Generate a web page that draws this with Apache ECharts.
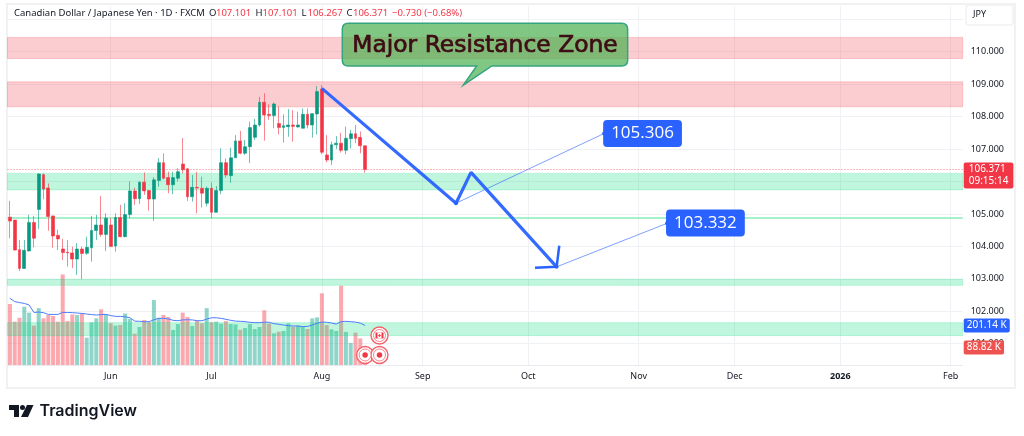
<!DOCTYPE html>
<html>
<head>
<meta charset="utf-8">
<style>html,body{margin:0;padding:0;background:#fff}#chart{width:1024px;height:436px}</style>
<script src="https://cdn.jsdelivr.net/npm/echarts@6/dist/echarts.min.js"></script>
</head>
<body>
<div id="chart"></div>
<script>
// open, close, low, high
var candles = [
[104.90,104.78,104.25,105.40],[104.81,103.89,103.87,104.81],[103.90,103.32,103.24,104.20],[103.32,103.88,103.32,104.20],
[103.86,104.74,103.84,104.97],[104.74,104.25,103.97,104.94],[105.14,106.23,104.54,106.25],[106.21,105.77,105.45,106.25],
[105.80,104.92,104.48,105.94],[104.94,104.32,103.96,104.94],[104.34,104.23,103.89,104.51],[103.92,103.81,103.58,104.23],
[103.82,103.80,103.38,104.20],[103.80,103.61,103.33,103.99],[103.61,103.92,103.12,104.10],[103.92,103.78,102.99,103.99],
[103.79,103.97,103.74,104.30],[103.96,104.49,103.53,104.94],[104.49,104.66,104.20,104.97],[104.66,104.37,104.30,105.55],
[104.37,104.87,103.86,105.02],[104.66,104.00,104.00,104.87],[104.01,104.89,103.84,105.02],[104.89,104.30,104.28,105.28],
[104.30,104.98,104.28,105.33],[104.98,105.71,104.87,106.00],[105.71,105.47,105.28,105.81],[105.47,105.98,105.31,106.00],
[105.98,105.71,105.59,106.28],[105.72,105.46,105.10,105.74],[105.46,106.05,104.79,106.13],[106.03,106.58,105.84,106.72],
[106.58,106.10,106.07,106.87],[106.12,105.90,105.64,106.30],[105.90,106.12,105.61,106.30],[106.10,106.30,106.00,106.41],
[106.54,106.36,106.25,107.34],[106.39,105.53,105.40,106.41],[105.53,105.82,105.38,106.20],[105.82,105.80,105.02,106.30],
[105.79,105.64,105.20,106.15],[105.33,105.79,105.23,105.84],[105.79,105.05,104.87,105.97],[105.05,105.72,105.05,105.86],
[105.72,106.58,105.61,107.02],[106.58,106.20,106.12,106.71],[106.18,106.73,105.96,107.04],[106.73,107.25,106.73,107.43],
[107.25,106.87,106.84,107.56],[106.87,107.07,106.82,107.28],[107.07,107.66,106.57,107.84],[107.36,107.74,107.28,107.93],
[107.74,108.44,107.69,108.61],[108.44,108.05,107.26,108.72],[108.07,108.03,107.90,108.38],[108.03,108.39,107.64,108.43],
[107.79,107.66,107.45,108.31],[107.66,107.72,107.20,108.07],[107.69,107.74,107.38,108.23],[107.74,107.70,107.23,108.20],
[107.68,107.74,107.66,108.15],[107.64,108.07,107.64,108.25],[108.07,107.74,107.64,108.25],[107.74,108.09,107.35,108.10],
[108.08,108.77,107.45,108.94],[108.85,106.90,106.84,108.97],[106.82,106.66,106.59,107.43],[106.66,107.13,106.51,107.23],
[107.13,107.18,107.00,107.40],[107.18,106.96,106.89,107.50],[106.96,107.33,106.84,107.69],[107.32,107.47,107.02,107.59],
[107.47,107.33,107.18,107.74],[107.36,107.10,106.87,107.54],[107.101,106.371,106.267,107.101]
];
// volume in thousands
var volumes = [310,220,240,296,266,200,289,237,254,249,220,460,223,257,254,262,139,217,237,283,257,212,200,203,262,234,159,193,229,217,330,240,254,244,178,208,266,244,198,225,212,289,217,220,210,223,208,206,179,188,208,183,193,278,210,161,169,173,212,193,200,195,183,237,242,364,203,181,173,403,168,112,164,135,88.82];
var volumeAvg = [339,322,317,313,305,267,269,266,257,257,257,267,267,266,264,262,259,256,254,256,257,251,247,247,245,240,223,222,220,220,230,237,237,234,227,225,229,230,229,225,225,233,240,240,237,232,227,223,222,220,217,215,215,218,217,210,207,203,200,198,198,195,196,203,212,218,217,213,208,220,222,220,218,213,201.14];

var priceTicks = [101,102,103,104,105,106,107,108,109,110,111];
var priceLabels = [101,102,103,104,105,107,108,109,110];
var tickDates = ['2025-06-02','2025-07-01','2025-08-01','2025-09-01','2025-10-01','2025-11-03','2025-12-01','2025-12-31','2026-02-02'];
var tickNames = ['Jun','Jul','Aug','Sep','Oct','Nov','Dec','2026','Feb'];

// price bands [top, bottom]
var resistanceZones = [[110.44,109.79],[109.07,108.30]];
var supportZones = [[106.25,105.74],[102.99,102.80],[101.65,101.25]];
var supportLine = 104.87;
var lastPrice = 106.371;
var lastVolume = 88.82;
var lastAvg = 201.14;

// drawings as [bar index, price]
var arrowPath = [[65,108.87],[92.94,105.33],[96.06,106.28],[113.9,103.37]];
var arrowHead = [[114.45,104.02],[113.9,103.37],[109.4,103.34]];
var leaders = [[[92.94,105.33],[123.8,107.48]],[[113.9,103.37],[136.9,104.71]]];
var targetLabels = [[131.8,107.48,'105.306'],[144.9,104.72,'103.332']];
var calloutBox = [69.25,110.875,128.7,109.56];
var calloutTail = [[97.25,109.56],[94.46,108.97],[100.4,109.56]];
var calloutText = 'Major Resistance Zone';

// event icons as [bar index, volume]
var eventDots = [[74,51],[77,51]];
var eventFlag = [[77,150]];

var headerItems = [
    ['Canadian Dollar / Japanese Yen · 1D · FXCM',14,'#131722'],
    ['O',209,'#131722'],['107.101',216,'#f23645'],
    ['H',255.5,'#131722'],['107.101',262.5,'#f23645'],
    ['L',301.5,'#131722'],['106.267',307.5,'#f23645'],
    ['C',346.5,'#131722'],['106.371',353,'#f23645'],
    ['−0.730 (−0.68%)',392,'#f23645']
];

var UP = '#089981', DOWN = '#f23645', BLUE = '#2962ff';
var FONT = '"Noto Sans"';

// weekday calendar from the first bar to the end of the axis
var dates = [];
var day = new Date(Date.UTC(2025,4,2));
while (dates.length < 199) {
    if (day.getUTCDay() != 0 && day.getUTCDay() != 6) dates.push(day.toISOString().slice(0,10));
    day = new Date(day.getTime() + 86400000);
}
function isTick(i, name) { return tickDates.indexOf(name) >= 0; }

var volumeBars = volumes.map(function (v, i) {
    var c = candles[i];
    return { value: v, itemStyle: { color: c[1] >= c[0] ? 'rgba(34,171,148,0.5)' : 'rgba(247,82,95,0.5)' } };
});

var myChart = echarts.init(document.getElementById('chart'), null, { renderer: 'canvas' });

var zoneAreas = resistanceZones.map(function (z) {
    return [{ yAxis: z[0], itemStyle: { color: 'rgba(242,54,69,0.25)', borderColor: 'rgba(242,54,69,0.22)', borderWidth: 1 } }, { yAxis: z[1] }];
}).concat(supportZones.map(function (z) {
    return [{ yAxis: z[0], itemStyle: { color: 'rgba(0,220,120,0.25)', borderColor: 'rgba(0,220,120,0.2)', borderWidth: 1 } }, { yAxis: z[1] }];
}));

function tag(text, bg, pad, dy) {
    return { show: true, position: 'end', distance: 1, offset: [0, dy], formatter: text, color: '#fff', fontFamily: FONT, fontSize: 10,
        backgroundColor: bg, padding: pad, borderRadius: 2, lineHeight: 12 };
}

var option = {
    animation: false,
    backgroundColor: '#fff',
    grid: [
        { left: 7.5, width: 955.2, top: 6, height: 359 },
        { left: 7.5, width: 955.2, top: 270, height: 95 }
    ],
    xAxis: [
        {
            type: 'category', gridIndex: 0, data: dates,
            axisLine: { lineStyle: { color: '#e8eaef' } },
            axisTick: { show: false, alignWithLabel: true },
            splitLine: { show: true, alignWithLabel: true, interval: isTick, lineStyle: { color: '#f0f1f4' } },
            axisLabel: {
                interval: isTick, margin: 7, color: '#131722', fontFamily: FONT, fontSize: 9,
                formatter: function (v) {
                    var n = tickNames[tickDates.indexOf(v)];
                    return n == '2026' ? '{b|' + n + '}' : n;
                },
                rich: { b: { fontWeight: 'bold', color: '#131722', fontFamily: FONT, fontSize: 9 } }
            }
        },
        { type: 'category', gridIndex: 1, data: dates, show: false },
        { type: 'value', gridIndex: 0, min: -0.5, max: 198.5, show: false }
    ],
    yAxis: [
        {
            type: 'value', gridIndex: 0, position: 'right', min: 100.345, max: 111.408, scale: true,
            axisLine: { show: false },
            axisTick: { show: false, customValues: priceTicks },
            splitLine: { show: true, lineStyle: { color: '#f0f1f4' } },
            axisLabel: {
                customValues: priceLabels, margin: 8, color: '#131722', fontFamily: FONT, fontSize: 9,
                formatter: function (v) { return v.toFixed(3); }
            }
        },
        { type: 'value', gridIndex: 1, min: 0, max: 482.6, show: false }
    ],
    graphic: [
        { type: 'rect', z: -1, shape: { x: 7, y: 4, width: 1008, height: 384 }, style: { fill: 'none', stroke: '#f0f1f3', lineWidth: 2 } },
        { type: 'rect', z: 50, shape: { x: 966, y: 5, width: 47, height: 20, r: 3 }, style: { fill: '#fff', stroke: '#f0f1f3', lineWidth: 1.5 } },
        { type: 'text', z: 51, x: 973, y: 10, style: { text: 'JPY', fill: '#131722', font: '9px ' + FONT } },
        // logo
        { type: 'polygon', shape: { points: [[9,405],[19,405],[19,417],[14,417],[14,410],[9,410]] }, style: { fill: '#131722' } },
        { type: 'circle', shape: { cx: 22.5, cy: 407.5, r: 2.5 }, style: { fill: '#131722' } },
        { type: 'polygon', shape: { points: [[27,405],[33.5,405],[28,417],[21,417]] }, style: { fill: '#131722' } },
        { type: 'text', x: 39.5, y: 403, style: { text: 'TradingView', fill: '#131722', font: '600 16px Inter' } }
    ].concat(headerItems.map(function (h) {
        return { type: 'text', z: 40, x: h[1], y: 8.5, style: { text: h[0], fill: h[2], font: '9.5px ' + FONT } };
    })),
    series: [
        {
            name: 'Volume', type: 'bar', xAxisIndex: 1, yAxisIndex: 1, z: 1, barWidth: 4, data: volumeBars,
            markLine: {
                silent: true, symbol: 'none', z: 20,
                lineStyle: { color: 'rgba(0,0,0,0)' },
                data: [
                    { yAxis: lastAvg, label: tag('201.14 K', BLUE, [1, 3], 0) },
                    { yAxis: lastVolume, label: tag('88.82 K', '#ef5350', [1, 3], 0) }
                ]
            }
        },
        {
            name: 'Zones', type: 'line', xAxisIndex: 0, yAxisIndex: 0, z: 2, data: [],
            markArea: { silent: true, z: 2, data: zoneAreas },
            markLine: {
                silent: true, symbol: 'none', z: 2,
                lineStyle: { color: '#86edb8', width: 1.6, type: 'solid' },
                label: { show: false },
                data: [{ yAxis: supportLine }]
            }
        },
        {
            name: 'CAD/JPY', type: 'candlestick', xAxisIndex: 0, yAxisIndex: 0, z: 3, barWidth: 3.4, data: candles,
            itemStyle: { color: UP, color0: DOWN, borderColor: 'rgba(8,153,129,0.75)', borderColor0: 'rgba(242,54,69,0.75)', borderWidth: 0.8 },
            markLine: {
                silent: true, symbol: 'none', z: 3,
                lineStyle: { color: 'rgba(242,54,69,0.7)', width: 1, type: [1, 2] },
                data: [{ yAxis: lastPrice, label: tag('106.371\n09:15:14', DOWN, [1, 5], 6) }]
            }
        },
        {
            name: 'Vol MA', type: 'line', xAxisIndex: 1, yAxisIndex: 1, z: 4, data: volumeAvg, symbol: 'none',
            lineStyle: { color: '#4d7dff', width: 1 }
        },
        {
            type: 'line', xAxisIndex: 2, yAxisIndex: 0, z: 6, data: leaders[0], symbol: 'circle', symbolSize: 4,
            itemStyle: { color: BLUE }, lineStyle: { color: 'rgba(41,98,255,0.6)', width: 1 }
        },
        {
            type: 'line', xAxisIndex: 2, yAxisIndex: 0, z: 6, data: leaders[1], symbol: 'circle', symbolSize: 4,
            itemStyle: { color: BLUE }, lineStyle: { color: 'rgba(41,98,255,0.6)', width: 1 }
        },
        {
            type: 'line', xAxisIndex: 2, yAxisIndex: 0, z: 7, data: arrowPath, symbol: 'none',
            lineStyle: { color: BLUE, width: 3.2, opacity: 0.95 }
        },
        {
            type: 'line', xAxisIndex: 2, yAxisIndex: 0, z: 7, data: arrowHead, symbol: 'none',
            lineStyle: { color: BLUE, width: 2.5 }
        },
        {
            type: 'scatter', xAxisIndex: 2, yAxisIndex: 0, z: 8, symbolSize: 1, itemStyle: { color: BLUE, opacity: 1 },
            data: targetLabels,
            label: {
                show: true, position: 'inside', fontFamily: '"Open Sans"', fontWeight: 500, fontSize: 17, color: '#fff',
                backgroundColor: BLUE, borderRadius: 4, padding: [5, 8],
                formatter: function (p) { return p.value[2]; }
            }
        },
        {
            type: 'custom', xAxisIndex: 2, yAxisIndex: 0, z: 9, data: [calloutBox], clip: false,
            renderItem: function (params, api) {
                var a = api.coord([calloutBox[0], calloutBox[1]]);
                var b = api.coord([calloutBox[2], calloutBox[3]]);
                var t0 = api.coord(calloutTail[0]), t1 = api.coord(calloutTail[1]), t2 = api.coord(calloutTail[2]);
                var r = 6;
                var d = 'M' + (a[0] + r) + ' ' + a[1] + 'L' + (b[0] - r) + ' ' + a[1] +
                    'Q' + b[0] + ' ' + a[1] + ' ' + b[0] + ' ' + (a[1] + r) +
                    'L' + b[0] + ' ' + (b[1] - r) + 'Q' + b[0] + ' ' + b[1] + ' ' + (b[0] - r) + ' ' + b[1] +
                    'L' + t2[0] + ' ' + t2[1] + 'L' + t1[0] + ' ' + t1[1] + 'L' + t0[0] + ' ' + t0[1] +
                    'L' + (a[0] + r) + ' ' + b[1] + 'Q' + a[0] + ' ' + b[1] + ' ' + a[0] + ' ' + (b[1] - r) +
                    'L' + a[0] + ' ' + (a[1] + r) + 'Q' + a[0] + ' ' + a[1] + ' ' + (a[0] + r) + ' ' + a[1] + 'Z';
                return {
                    type: 'group',
                    children: [
                        {
                            type: 'path',
                            shape: { pathData: d, x: a[0], y: a[1], width: b[0] - a[0], height: t1[1] - a[1], layout: 'cover' },
                            style: { fill: 'rgba(76,175,80,0.7)', stroke: '#34a57f', lineWidth: 1.5 }
                        },
                        {
                            type: 'text', x: (a[0] + b[0]) / 2, y: (a[1] + b[1]) / 2 + 1.5,
                            style: { text: calloutText, fill: '#3d0c14', stroke: '#3d0c14', lineWidth: 0.7, font: '23.4px "DejaVu Sans"', align: 'center', verticalAlign: 'middle' }
                        }
                    ]
                };
            }
        },
        // event icons
        {
            type: 'scatter', xAxisIndex: 1, yAxisIndex: 1, z: 10, symbolSize: 17, data: eventDots.concat(eventFlag),
            itemStyle: { color: '#fff', borderColor: '#f4616a', borderWidth: 1.4, opacity: 1 }
        },
        {
            type: 'scatter', xAxisIndex: 1, yAxisIndex: 1, z: 11, symbolSize: 12, data: eventDots.concat(eventFlag),
            itemStyle: { color: '#fff', borderColor: '#f7868c', borderWidth: 1, opacity: 1 }
        },
        {
            type: 'scatter', xAxisIndex: 1, yAxisIndex: 1, z: 12, symbolSize: 5.5, data: eventDots,
            itemStyle: { color: '#f23645', opacity: 1 }
        },
        {
            type: 'scatter', xAxisIndex: 1, yAxisIndex: 1, z: 12, symbol: 'rect', symbolSize: [8, 6], data: eventFlag,
            itemStyle: { color: '#f23645', opacity: 1 }
        },
        {
            type: 'scatter', xAxisIndex: 1, yAxisIndex: 1, z: 13, symbol: 'rect', symbolSize: [4, 6], data: eventFlag,
            itemStyle: { color: '#fff', opacity: 1 }
        },
        {
            type: 'scatter', xAxisIndex: 1, yAxisIndex: 1, z: 14, symbol: 'diamond', symbolSize: 3, data: eventFlag,
            itemStyle: { color: '#f23645', opacity: 1 }
        }
    ]
};
myChart.setOption(option);
</script>
</body>
</html>
